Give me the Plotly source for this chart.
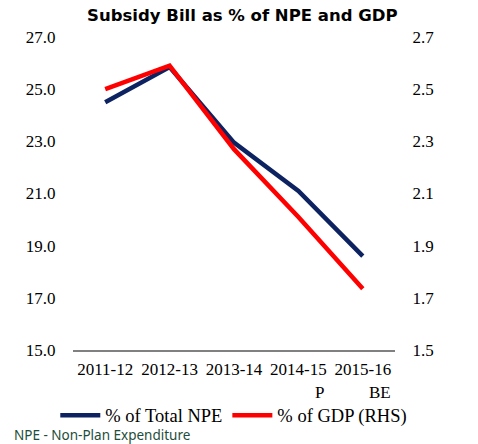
import plotly.graph_objects as go

nb = "\u00a0"
categories = ["2011-12", "2012-13", "2013-14", "2014-15<br>" + nb * 10 + "P", "2015-16<br>" + nb * 8 + "BE"]
npe_share = [24.5, 25.85, 22.95, 21.1, 18.6]
gdp_share = [2.50, 2.59, 2.27, 2.01, 1.735]
left_ticks = [15.0, 17.0, 19.0, 21.0, 23.0, 25.0, 27.0]
right_ticks = [1.5, 1.7, 1.9, 2.1, 2.3, 2.5, 2.7]

serif = "Liberation Serif, Times New Roman, serif"
clear = "rgba(0,0,0,0)"

fig = go.Figure()
fig.add_trace(go.Scatter(x=categories, y=npe_share, mode="lines", name="% of Total NPE",
                         line=dict(color="#0d2260", width=4.5)))
fig.add_trace(go.Scatter(x=categories, y=gdp_share, mode="lines", name="% of GDP (RHS)",
                         line=dict(color="#ff0000", width=4.5), yaxis="y2"))

fig.update_layout(
    width=478, height=444,
    margin=dict(l=73, r=83, t=37, b=94, autoexpand=False),
    paper_bgcolor="white", plot_bgcolor="white",
    font=dict(family=serif, size=17, color="black"),
    title=dict(text="<b>Subsidy Bill as % of NPE and GDP</b>", x=0.507, xanchor="center",
               y=0.965, yanchor="middle",
               font=dict(family="DejaVu Sans", size=16.5, color="black")),
    xaxis=dict(type="category", range=[-0.5, 4.5], showgrid=False, zeroline=False, showline=True,
               linecolor="#808080", linewidth=2, ticks="outside", ticklen=3, tickcolor=clear,
               tickfont=dict(family=serif, size=17, color="black")),
    yaxis=dict(range=[15, 27], tickvals=left_ticks, tickformat=".1f", showgrid=False,
               zeroline=False, showline=False, ticks="outside", ticklen=13, tickcolor=clear,
               tickfont=dict(family=serif, size=17, color="black")),
    yaxis2=dict(range=[1.5, 2.7], tickvals=right_ticks, tickformat=".1f", overlaying="y",
                side="right", showgrid=False, zeroline=False, showline=False,
                ticks="outside", ticklen=13, tickcolor=clear,
                tickfont=dict(family=serif, size=17, color="black")),
    legend=dict(orientation="h", xref="paper", yref="paper",
                x=-0.055, xanchor="left", y=-0.21, yanchor="middle",
                font=dict(family=serif, size=18.5, color="black"),
                itemwidth=40, tracegroupgap=0, bgcolor=clear),
    showlegend=True,
)

fig.add_annotation(text="NPE - Non-Plan Expenditure", xref="paper", yref="paper",
                   x=-0.19, xanchor="left", y=-0.273, yanchor="middle", showarrow=False,
                   font=dict(family="Noto Sans", size=13.5, color="#1e4d3a"))

fig.write_html("out.html", config={"displayModeBar": False},
               post_script="document.body.style.margin='0';document.body.style.overflow='hidden';")
